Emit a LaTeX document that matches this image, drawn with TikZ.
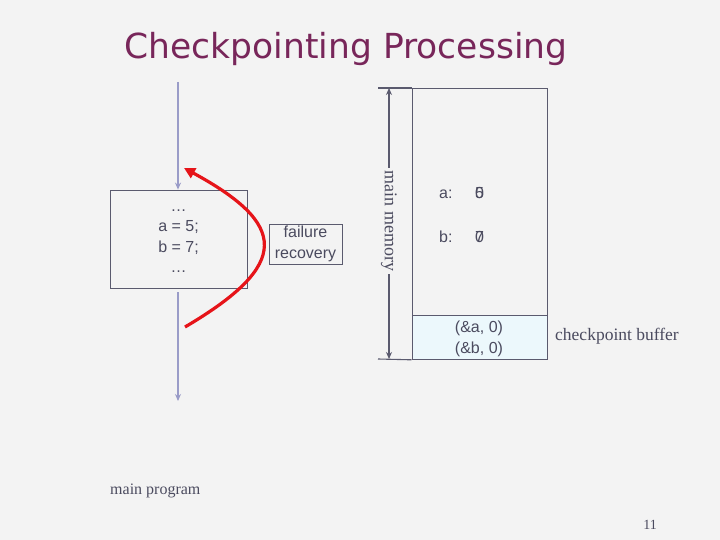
\documentclass[tikz,border=0pt]{standalone}
\usepackage{fontspec}
\setmainfont{Liberation Serif}
\setsansfont{Liberation Sans}
\newfontfamily\titlefont{DejaVu Sans}
\usetikzlibrary{arrows.meta}
\definecolor{bgc}{RGB}{243,243,243}
\definecolor{titlec}{RGB}{120,38,90}
\definecolor{inkc}{RGB}{75,75,95}
\definecolor{linec}{RGB}{90,90,110}
\definecolor{flowc}{RGB}{154,156,200}
\definecolor{bufc}{RGB}{236,248,252}
\definecolor{redc}{RGB}{230,20,25}
\tikzset{
  px/.style={x=1pt,y=-1pt},
  lbl/.style={font=\sffamily\fontsize{16}{19}\selectfont, text=inkc, inner sep=1pt},
  serif/.style={font=\rmfamily\fontsize{16}{19}\selectfont, text=inkc, inner sep=1pt},
  boxline/.style={draw=linec, line width=0.8pt},
  flow/.style={draw=flowc, line width=1.2pt, -{Stealth[length=7pt,width=6pt]}},
  dim/.style={draw=linec, line width=1.1pt},
}
\begin{document}
\begin{tikzpicture}[px]
\useasboundingbox[fill=bgc] (0,0) rectangle (720,540);
% title
\node[font=\titlefont\fontsize{34.5}{40}\selectfont, text=titlec, anchor=base] (title) at (346,59) {Checkpointing Processing};

% program box
\node[boxline, minimum width=137pt, minimum height=98pt, inner sep=0pt] (prog) at (178.5,239) {};
\node[lbl, align=center, font=\sffamily\fontsize{16}{20.5}\selectfont] (code) at (178.5,241) {\dots\\a = 5;\\b = 7;\\\dots};

% flow lines
\coordinate (ftop) at (178,82);
\coordinate (fbot0) at (178,292);
\coordinate (fbot) at (178,401);
\draw[flow] (ftop) -- (prog.north -| ftop);
\draw[flow] (fbot0) -- (fbot);

% red recovery arrow
\coordinate (rs) at (185,327);
\coordinate (re) at (184,168);
\draw[redc, line width=3.2pt, -{Triangle[length=11pt,width=11pt]}] (rs) .. controls (292,264) and (287,224) .. (re);

% failure recovery label
\node[boxline, lbl, minimum width=73pt, minimum height=40pt, inner sep=1pt, align=center, font=\sffamily\fontsize{16}{21}\selectfont] (fail) at (305.5,244) {failure\\recovery};

% memory
\node[boxline, minimum width=135pt, minimum height=227pt, inner sep=0pt, anchor=north west] (mem) at (411.5,88) {};
\node[boxline, fill=bufc, minimum width=135pt, minimum height=44pt, inner sep=0pt, anchor=north west] (buf) at (411.5,315) {};
\node[lbl, align=center, font=\sffamily\fontsize{16}{21}\selectfont] (buftxt) at (479,338.5) {(\&a, 0)\\(\&b, 0)};

\node[lbl, anchor=base west] (alab) at (438,199) {a:};
\node[lbl, anchor=base west] (blab) at (438,242) {b:};
\node[lbl, anchor=base west] (aval0) at (474,199) {5};
\node[lbl, anchor=base west] (aval1) at (474,199) {0};
\node[lbl, anchor=base west] (bval0) at (474,242) {7};
\node[lbl, anchor=base west] (bval1) at (474,242) {0};

% main memory dimension
\coordinate (dtl) at (378,88);
\coordinate (dbl) at (378,359);
\coordinate (dt) at (389,88);
\coordinate (db) at (389,359);
\draw[dim] (dtl) -- (mem.north west);
\draw[dim] (dbl) -- (buf.south west);
\node[serif, rotate=-90, font=\rmfamily\fontsize{18}{20}\selectfont, inner sep=3pt] (mmlab) at (389,221) {main memory};
\draw[dim, -{Stealth[length=7pt,width=6pt]}] (mmlab.west) -- (dt);
\draw[dim, -{Stealth[length=7pt,width=6pt]}] (mmlab.east) -- (db);

\node[serif, anchor=west, font=\rmfamily\fontsize{17.5}{20}\selectfont] (cbuf) at (554,336) {checkpoint buffer};
\node[serif, anchor=west] (mprog) at (109,491) {main program};
\node[serif, font=\rmfamily\fontsize{14}{16}\selectfont] (pnum) at (650,525) {11};
\end{tikzpicture}
\end{document}
